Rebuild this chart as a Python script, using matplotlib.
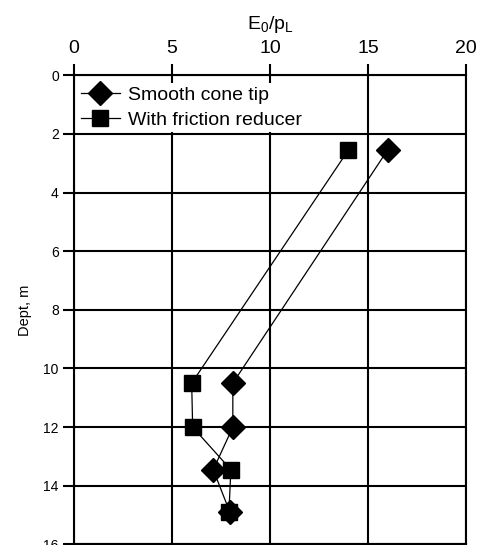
import matplotlib
matplotlib.use("Agg")
import matplotlib.pyplot as plt

plt.rcParams['font.family'] = ['Liberation Sans', 'DejaVu Sans']
plt.rcParams['mathtext.fontset'] = 'custom'
plt.rcParams['mathtext.rm'] = 'Liberation Sans'

smooth_x = [16, 8.1, 8.1, 7.1, 7.95]
smooth_depth = [2.55, 10.5, 12.0, 13.45, 14.9]
friction_x = [14, 6.0, 6.05, 8.0, 7.9]
friction_depth = [2.55, 10.5, 12.0, 13.45, 14.9]
xticks = [0, 5, 10, 15, 20]
yticks = [0, 2, 4, 6, 8, 10, 12, 14, 16]

fig = plt.figure(figsize=(4.78, 5.45), dpi=100)
ax = fig.add_axes([0.155, 0.001, 0.82, 0.861])

ax.plot(smooth_x, smooth_depth, color='black', lw=0.9, marker='D', ms=12,
        mfc='black', mec='black', label='Smooth cone tip', zorder=3)
ax.plot(friction_x, friction_depth, color='black', lw=0.9, marker='s', ms=11,
        mfc='black', mec='black', label='With friction reducer', zorder=3)

ax.set_xlim(0, 20)
ax.set_ylim(16, 0)
ax.set_xticks(xticks)
ax.set_yticks(yticks)
ax.xaxis.tick_top()
ax.xaxis.set_label_position('top')
ax.grid(True, color='black', lw=1.5)
ax.set_axisbelow(True)
for s in ax.spines.values():
    s.set_linewidth(1.5)
ax.tick_params(axis='x', labelsize=14, length=8, width=1.5, pad=5)
ax.tick_params(axis='y', labelsize=10, length=8, width=1.5, pad=3)
ax.set_xlabel(r'E$_\mathrm{0}$/p$_\mathrm{L}$', fontsize=14, labelpad=8)
ax.set_ylabel('Dept, m', fontsize=10.5, labelpad=8)

leg = ax.legend(loc='upper left', bbox_to_anchor=(0.01, 0.983), frameon=True,
                fontsize=14, handlelength=2.0, handletextpad=0.4,
                borderaxespad=0.0, labelspacing=0.4, borderpad=0.15)
leg.get_frame().set_edgecolor('none')
leg.get_frame().set_facecolor('white')
leg.get_frame().set_alpha(1)
leg.set_zorder(4)

fig.savefig('out.png', dpi=100)
